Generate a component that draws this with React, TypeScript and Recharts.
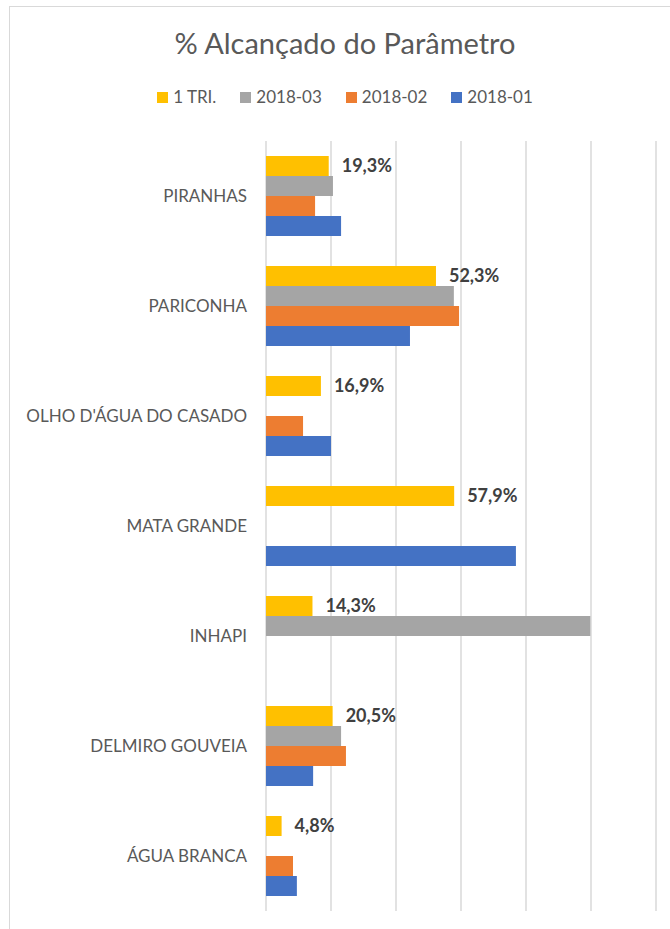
import { Bar, BarChart, CartesianGrid, LabelList, Legend, XAxis, YAxis } from "recharts";

const municipios = [
  "PIRANHAS",
  "PARICONHA",
  "OLHO D'ÁGUA DO CASADO",
  "MATA GRANDE",
  "INHAPI",
  "DELMIRO GOUVEIA",
  "ÁGUA BRANCA",
];

// % alcançado, null = sem barra
const tri1 = [19.3, 52.3, 16.9, 57.9, 14.3, 20.5, 4.8];
const mar2018 = [20.6, 57.8, null, null, 99.8, 23.1, null];
const fev2018 = [15.1, 59.4, 11.4, null, null, 24.6, 8.3];
const jan2018 = [23.1, 44.3, 20.0, 76.9, null, 14.5, 9.5];

const xTicks = [0, 20, 40, 60, 80, 100, 120];

const series = [
  { key: "tri1", name: "1 TRI.", color: "#FFC000" },
  { key: "mar", name: "2018-03", color: "#A5A5A5" },
  { key: "fev", name: "2018-02", color: "#ED7D31" },
  { key: "jan", name: "2018-01", color: "#4472C4" },
];

const data = municipios.map((nome, i) => ({
  nome,
  tri1: tri1[i],
  mar: mar2018[i],
  fev: fev2018[i],
  jan: jan2018[i],
}));

const FONT = "Lato, 'Noto Sans', sans-serif";

const pct = (v: unknown) =>
  v == null ? "" : `${Number(v).toFixed(1).replace(".", ",")}%`;

function LegendBox() {
  return (
    <div style={{ display: "flex", justifyContent: "center", gap: 24, fontSize: 17, color: "#595959", height: 20, lineHeight: "20px" }}>
      {series.map((s) => (
        <span key={s.key} style={{ display: "flex", alignItems: "center" }}>
          <span style={{ width: 11, height: 11, background: s.color, marginRight: 5, display: "inline-block" }} />
          {s.name}
        </span>
      ))}
    </div>
  );
}

export default function App() {
  return (
    <div style={{ position: "absolute", left: 0, top: 0, width: 670, height: 929, background: "#fff", fontFamily: FONT, overflow: "hidden" }}>
      <div
        style={{
          position: "absolute",
          left: 9,
          top: 6,
          width: 700,
          height: 940,
          borderLeft: "1.5px solid #d9d9d9",
          borderTop: "1.5px solid #d9d9d9",
        }}
      />
      <div
        style={{
          position: "absolute",
          top: 25,
          left: 10,
          width: 670,
          textAlign: "center",
          fontSize: 29,
          color: "#595959",
        }}
      >
        % Alcançado do Parâmetro
      </div>
      <BarChart
        width={670}
        height={929}
        data={data}
        layout="vertical"
        margin={{ top: 121, right: 14, bottom: 18, left: 10 }}
        barCategoryGap={15}
        barGap={0}
        style={{ position: "absolute", left: 0, top: 0 }}
      >
        <CartesianGrid horizontal={false} stroke="#d9d9d9" strokeWidth={1.5} />
        <XAxis type="number" domain={[0, 120]} ticks={xTicks} hide />
        <YAxis
          type="category"
          dataKey="nome"
          width={256}
          axisLine={false}
          tickLine={false}
          tickSize={0}
          tickMargin={19}
          tick={{ fontSize: 17, fill: "#595959", fontFamily: FONT }}
        />
        <Legend
          verticalAlign="top"
          content={<LegendBox />}
          wrapperStyle={{ top: 87, left: 10, width: 670, height: 20 }}
        />
        {series.map((s) => (
          <Bar key={s.key} dataKey={s.key} name={s.name} fill={s.color} isAnimationActive={false}>
            {s.key === "tri1" && (
              <LabelList
                dataKey="tri1"
                position="right"
                offset={13}
                formatter={pct}
                style={{ fontSize: 18, fontWeight: 700, fill: "#404040", fontFamily: FONT }}
              />
            )}
          </Bar>
        ))}
      </BarChart>
    </div>
  );
}
